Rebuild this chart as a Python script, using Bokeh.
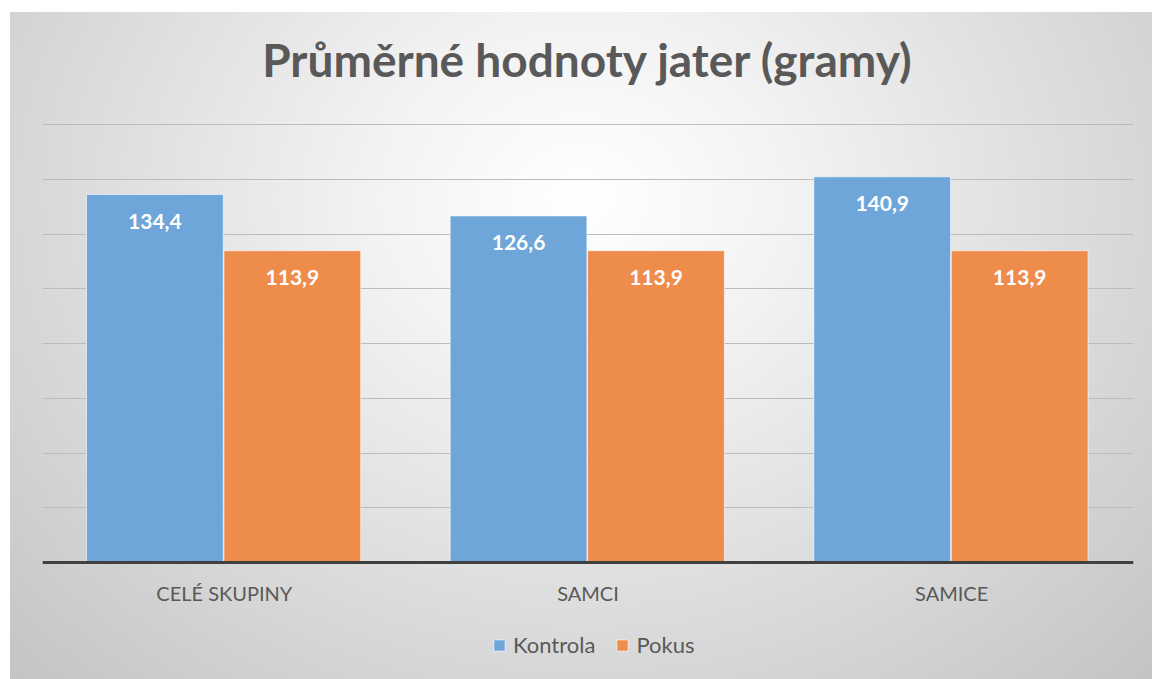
from bokeh.plotting import figure
from bokeh.models import (ColumnDataSource, FactorRange, Range1d, Legend, LegendItem,
                          FixedTicker, Grid, Span, Label)
from bokeh.transform import dodge
from bokeh.core.properties import value
from bokeh.embed import file_html
from bokeh.resources import INLINE

categories = ["CELÉ SKUPINY", "SAMCI", "SAMICE"]
kontrola = [134.4, 126.6, 140.9]
pokus = [113.9, 113.9, 113.9]
kontrola_labels = ["134,4", "126,6", "140,9"]
pokus_labels = ["113,9", "113,9", "113,9"]
y_ticks = [20, 40, 60, 80, 100, 120, 140, 160]
title_text = "Průměrné hodnoty jater (gramy)"

src = ColumnDataSource(dict(cat=categories, k=kontrola, p=pokus,
                            kl=kontrola_labels, pl=pokus_labels))

FONT = "Lato"
TXT = "#595959"

# layout (pixels within the figure)
FIG_W, FIG_H = 1142, 667
PLOT_TOP, PLOT_BOTTOM = 112, 550          # where 160 and 0 sit
Y_MAX = 160
scale = (PLOT_BOTTOM - PLOT_TOP) / Y_MAX
y_start = -(FIG_H - PLOT_BOTTOM) / scale
y_end = Y_MAX + PLOT_TOP / scale

p = figure(x_range=FactorRange(*categories, range_padding=0),
           y_range=Range1d(y_start, y_end),
           width=FIG_W, height=FIG_H, output_backend="svg", toolbar_location=None,
           x_axis_location=None, y_axis_location=None,
           min_border_left=32, min_border_right=19, min_border_top=0, min_border_bottom=0)
p.styles = {"margin-left": "10px", "margin-top": "12px",
            "background": "radial-gradient(ellipse farthest-corner at 50% 28%, #ffffff 0%, #f3f3f3 25%, #c4c4c4 100%)"}
p.background_fill_alpha = 0
p.border_fill_alpha = 0
p.outline_line_color = None
p.center = [r for r in p.center if not isinstance(r, Grid)]

grid = Grid(dimension=1, ticker=FixedTicker(ticks=y_ticks), bounds=(0, Y_MAX),
            grid_line_color="#bcbcbc", grid_line_width=1)
p.add_layout(grid)

W = 0.376
rk = p.vbar(x=dodge("cat", -0.191, range=p.x_range), top="k", width=W, source=src,
            fill_color="#6ea6da", line_color="white", line_alpha=0.6, line_width=1)
rp = p.vbar(x=dodge("cat", 0.187, range=p.x_range), top="p", width=W, source=src,
            fill_color="#ee8c4c", line_color="white", line_alpha=0.6, line_width=1)

for col, lab, off in (("k", "kl", -0.191), ("p", "pl", 0.187)):
    p.text(x=dodge("cat", off, range=p.x_range), y=col, text=lab, source=src,
           text_align="center", text_baseline="middle", y_offset=27,
           text_color="white", text_font=value(FONT), text_font_style="bold",
           text_font_size="21px")

p.add_layout(Span(location=0, dimension="width", line_color="#404040", line_width=3))

# category labels under the base line
p.text(x="cat", y=0, text="cat", source=src, text_align="center", text_baseline="middle",
       y_offset=30, text_color=TXT, text_font=value(FONT), text_font_size="20px")

# title
p.add_layout(Label(x=(1133 - 42) / 2, x_units="screen", y=Y_MAX + (PLOT_TOP - 47) / scale,
                   text=title_text, text_align="center", text_baseline="middle",
                   text_font=FONT, text_font_size="46px", text_font_style="bold",
                   text_color=TXT))

legend = Legend(items=[LegendItem(label="Kontrola", renderers=[rk]),
                       LegendItem(label="Pokus", renderers=[rp])],
                orientation="horizontal", location=(450, 21),
                border_line_color=None, background_fill_alpha=0,
                label_text_font=FONT, label_text_font_size="22px", label_text_color=TXT,
                glyph_width=14, glyph_height=14, spacing=20, label_standoff=7,
                margin=0, padding=0)
p.add_layout(legend)

open("out.html", "w").write(file_html(p, INLINE))
